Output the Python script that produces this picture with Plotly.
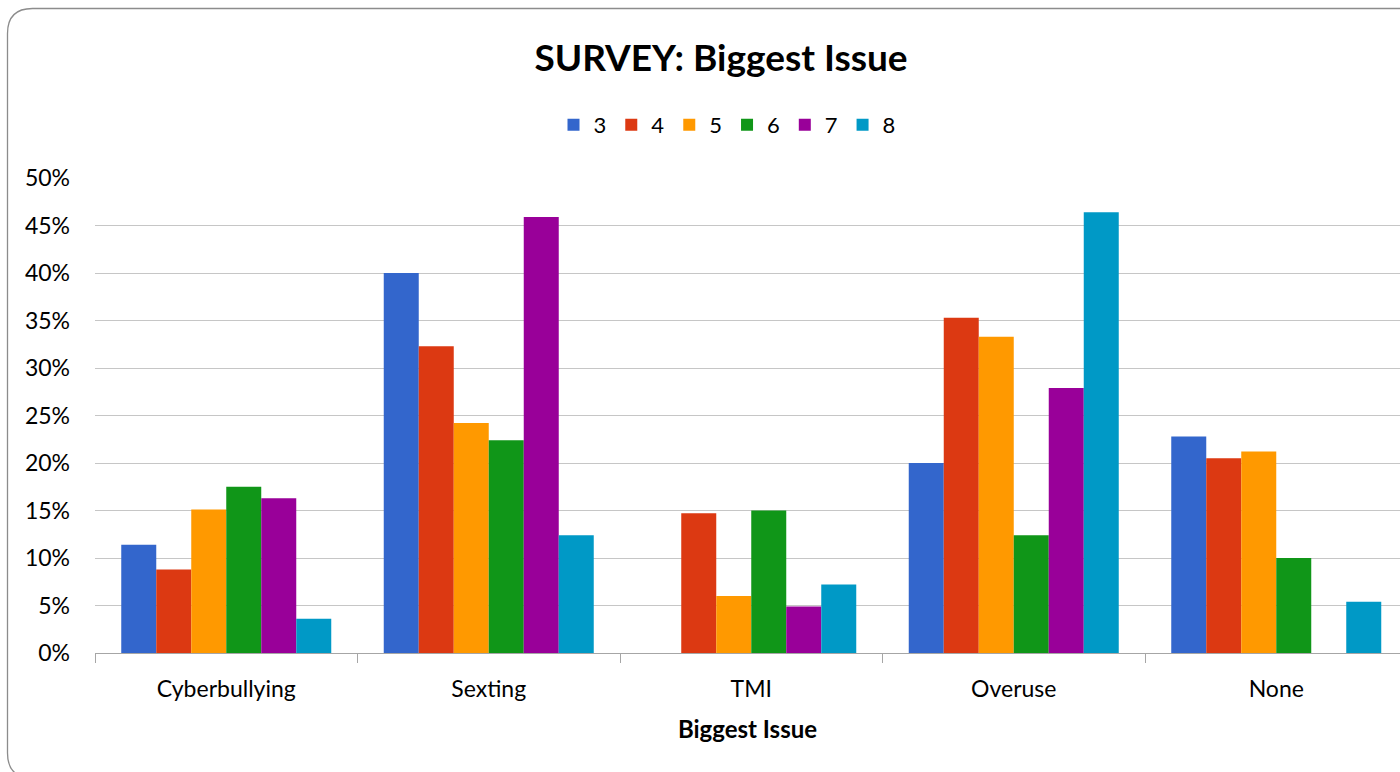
import plotly.graph_objects as go

categories = ["Cyberbullying", "Sexting", "TMI", "Overuse", "None"]
series_names = ["3", "4", "5", "6", "7", "8"]
s3 = [11.4, 40.0, 0.0, 20.0, 22.8]
s4 = [8.8, 32.3, 14.7, 35.3, 20.5]
s5 = [15.1, 24.2, 6.0, 33.3, 21.2]
s6 = [17.5, 22.4, 15.0, 12.4, 10.0]
s7 = [16.3, 45.9, 4.9, 27.9, 0.0]
s8 = [3.6, 12.4, 7.2, 46.4, 5.4]
all_series = [s3, s4, s5, s6, s7, s8]
colors = ["#3366CC", "#DC3912", "#FF9900", "#109618", "#990099", "#0099C6"]
y_ticks = [0, 5, 10, 15, 20, 25, 30, 35, 40, 45, 50]

W, H = 1400, 772
L, R, T, B = 95, 1400, 178, 653
FONT = "Lato"

fig = go.Figure()
for name, vals, c in zip(series_names, all_series, colors):
    fig.add_trace(go.Bar(x=categories, y=vals, name=name, marker_color=c,
                         marker_line_width=0))

def px(x):
    return (x - L) / (R - L)

def py(y):
    return (B - y) / (B - T)

# rounded border
lx, ty, rx, by, r = 7.5, 8.5, 1440, 778, 25
path = (f"M {px(rx)},{py(ty)} L {px(lx + r)},{py(ty)} "
        f"Q {px(lx)},{py(ty)} {px(lx)},{py(ty + r)} "
        f"L {px(lx)},{py(by - r)} Q {px(lx)},{py(by)} {px(lx + r)},{py(by)} "
        f"L {px(rx)},{py(by)}")
fig.add_shape(type="path", xref="paper", yref="paper", path=path,
              line=dict(color="#8c8c8c", width=1.3), layer="below")

fig.update_layout(
    width=W, height=H,
    margin=dict(l=L, r=W - R, t=T, b=H - B, pad=0),
    paper_bgcolor="white", plot_bgcolor="white",
    barmode="group", bargap=0.2, bargroupgap=0,
    font=dict(family=FONT, color="#000000", size=23),
    title=dict(text="<b>SURVEY: Biggest Issue</b>", x=721 / W, xanchor="center",
               y=1 - 58 / H, yanchor="middle", xref="container", yref="container",
               font=dict(size=37, family=FONT, color="#000")),
    legend=dict(orientation="h", x=px(727), xanchor="center", y=py(125),
                yanchor="middle", font=dict(size=22), itemwidth=30,
                traceorder="normal"),
    showlegend=True,
)
fig.update_xaxes(
    range=[-0.5, -0.5 + (R - L) / 262.5],
    showgrid=False, showline=True, linecolor="#a6a6a6", linewidth=1.3,
    ticks="outside", ticklen=9, tickcolor="#a6a6a6", tickwidth=1.3,
    tickson="boundaries",
    tickfont=dict(size=23), ticklabelstandoff=15,
    title=dict(text="<b>Biggest Issue</b>", font=dict(size=24), standoff=20),
)
fig.update_yaxes(
    range=[0, 50], tickvals=y_ticks, ticktext=[f"{v}%" for v in y_ticks],
    showgrid=True, gridcolor="#c6c6c6", gridwidth=1.3, zeroline=False,
    showline=False, ticks="", tickfont=dict(size=23), ticklabelstandoff=24,
)

fig.write_html("out.html", config={"displayModeBar": False},
               post_script="document.body.style.margin='0';")
